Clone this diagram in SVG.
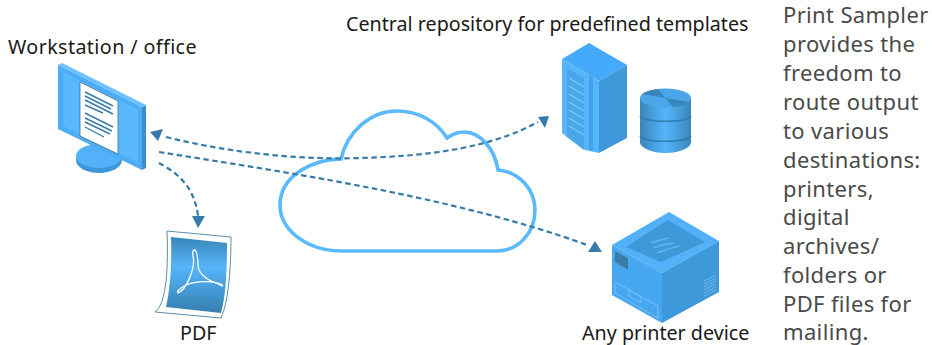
<svg xmlns="http://www.w3.org/2000/svg" width="932" height="345" viewBox="0 0 932 345">
<style>
.lbl{font-family:"Noto Sans","Open Sans",sans-serif;font-size:19.7px;fill:#1a1a1a}
.para{font-family:"Noto Sans","Open Sans",sans-serif;font-size:22px;letter-spacing:.35px;fill:#4a4a4a}
.con{fill:none;stroke:#377ca8;stroke-width:2.2;stroke-dasharray:5.500 3.500}
.ah{fill:#377ca8}
</style>
<defs>
<linearGradient id="cyl" x1="0" x2="1" y1="0" y2="0">
<stop offset="0" stop-color="#3a86ba"/><stop offset=".5" stop-color="#55b5fb"/><stop offset="1" stop-color="#3a86ba"/>
</linearGradient>
<linearGradient id="pdfg" x1="0" x2="0" y1="0" y2="1">
<stop offset="0" stop-color="#3a86b8"/><stop offset=".4" stop-color="#55b5fb"/><stop offset="1" stop-color="#357fae"/>
</linearGradient>
</defs>
<rect width="932" height="345" fill="#fff"/>
<g id="cloud"><path d="M341 159C347 132 370 111 397 111C419 111 437 122 447 138C454 133 459 132 464 132C481 132 495 150 498 170C520 172 535 190 535 210C535 233 518 251 497 251H342C307 251 280 230 280 205C280 178 308 160 341 159Z" fill="none" stroke="#5abafd" stroke-width="3.6"/></g>
<g id="connectors">
<path class="con" d="M166 137C230 153 300 160 360 158C430 156 490 148 538 122"/>
<polygon class="ah" points="549,116 538,117 545,128"/>
<polygon class="ah" points="163,129 150,132 158,141"/>
<path class="con" d="M159 152C270 170 450 195 587 245"/>
<polygon class="ah" points="595,241 588,252 602,252"/>
<path class="con" d="M159 163C175 172 194 184 198 216"/>
<polygon class="ah" points="192,216 205,216 198,228"/>
</g>
<g id="workstation">
<text class="lbl" x="8" y="54" letter-spacing=".4">Workstation / office</text>
<ellipse cx="99" cy="160" rx="23" ry="13" fill="#3d97d9"/>
<ellipse cx="99" cy="156" rx="23" ry="12" fill="#52b1f9"/>
<polygon points="142,107 146,105 146,168 142,170" fill="#3d8fcc"/>
<polygon points="58,65 62,63 146,105 142,107" fill="#6cc0ff"/>
<polygon points="58,65 142,107 142,170 58,129" fill="#4cacf5"/>
<polygon points="63,72 138,110 138,163 63,126" fill="#5ab8ff"/>
<polygon points="80,82 118,101 118,154 80,136" fill="#fff" stroke="#3c6f90" stroke-width=".8"/>
<path d="M85 92L113 106M85 96L111 109M85 100L113 114M85 105L103 113M85 113L113 127M85 118L112 131M85 122L110 134M85 127L104 137" stroke="#377ca8" stroke-width="1.4" fill="none"/>
</g>
<g id="repository">
<text class="lbl" x="346" y="31">Central repository for predefined templates</text>
<polygon points="589,43 627,65 599,81 562,59" fill="#45a9fc"/>
<polygon points="599,81 627,65 627,138 599,153" fill="#3e98da"/>
<polygon points="562,59 599,81 599,153 585,150 567,137 562,133" fill="#55b5fd"/>
<polygon points="567,68 584,78 584,150 567,137" fill="#49a6e8"/>
<polygon points="589,75 593,77 593,150 589,150" fill="#46a2e4"/>
<path d="M569 78L584 87M569 86L584 95M569 94L584 103M569 102L584 111M569 110L584 119M569 118L584 127M569 126L584 135" stroke="#7cc6fb" stroke-width="1.4"/>
<path d="M640 98V142C640 148 652 153 665.500 153C679 153 691 148 691 142V98Z" fill="url(#cyl)"/>
<ellipse cx="665.500" cy="98" rx="25.500" ry="9.500" fill="#4aa6e8"/>
<path d="M665.500 98L642 94Q648 90 658 89ZM665.500 98L689 102Q683 106 673 107Z" fill="#3a86ba"/>
<path d="M640 116C644 123 687 123 691 116M640 136C644 143 687 143 691 136" fill="none" stroke="#2f7fb3" stroke-width="1.6"/>
</g>
<g id="printer">
<polygon points="669,212 719,241 662,273 612,245" fill="#52b1f9"/>
<polygon points="668,220 705,242 661,262 626,247" fill="#3f98d8"/>
<path d="M651 243Q660 240 669 238M653 248Q663 244 674 243M657 253Q667 249 679 246" stroke="#5fb5f0" stroke-width="1.4" fill="none"/>
<polygon points="662,273 719,241 719,292 662,323" fill="#3e98da"/>
<polygon points="612,245 662,273 662,323 612,295" fill="#47a6f0"/>
<polygon points="615,251 628,258 628,270 615,262" fill="#3a7ea8"/>
<path d="M615 282V293L658 318V306ZM629 290L641 297V303L629 296Z" fill="none" stroke="#71c2fb" stroke-width="1"/>
<path d="M704 281L716 275M704 284L716 278M704 287L716 281M704 290L716 284M704 293L716 287M704 296L716 290" stroke="#6cbaee" stroke-width="1"/>
<text class="lbl" x="582" y="340">Any printer device</text>
</g>
<g id="pdf">
<path d="M167 231L231 237C231 265 229 300 221 318L155 312C164 306 169 280 167 231Z" fill="#fff" stroke="#5c8eaa" stroke-width="1"/>
<path d="M171 237L227 243C227 270 226 295 221 313L166 307C170 290 172 265 171 237Z" fill="url(#pdfg)"/>
<path d="M178 293C186 290 196 268 193 256C192 251 194 249 195 250C199 254 197 265 199 270C203 278 211 282 220 284C224 285 223 287 220 285C214 280 195 281 186 285C180 288 176 292 178 293Z" fill="none" stroke="#fff" stroke-width="1.3"/>
<text class="lbl" x="180" y="340">PDF</text>
</g>
<g id="note"><text class="para">
<tspan x="783" y="23">Print Sampler</tspan>
<tspan x="783" y="52">provides the</tspan>
<tspan x="783" y="81">freedom to</tspan>
<tspan x="783" y="110">route output</tspan>
<tspan x="783" y="139">to various</tspan>
<tspan x="783" y="168">destinations:</tspan>
<tspan x="783" y="197">printers,</tspan>
<tspan x="783" y="225">digital</tspan>
<tspan x="783" y="254">archives/</tspan>
<tspan x="783" y="283">folders or</tspan>
<tspan x="783" y="312">PDF files for</tspan>
<tspan x="783" y="340">mailing.</tspan>
</text></g>
</svg>
